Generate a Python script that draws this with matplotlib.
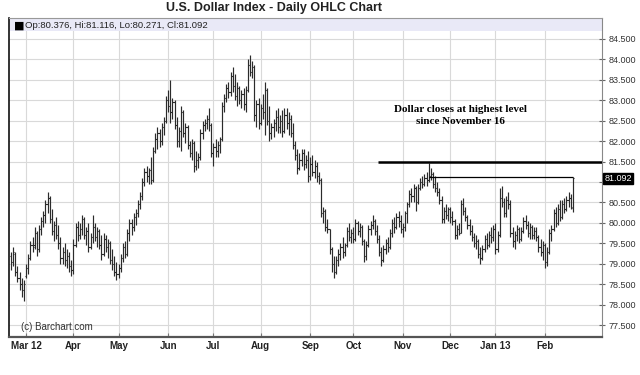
import matplotlib
matplotlib.use('Agg')
import matplotlib.pyplot as plt
import pandas as pd

# valeurs (du 21 fév 2012 au 20 fév 2013, jours ouvrés)
start, end = '2012-02-21', '2013-02-20'

opens = [79.20, 79.05, 79.25, 78.80, 78.65, 78.50, 78.35, 78.70,
    78.90, 79.15, 79.45, 79.45, 79.75, 79.35, 79.85, 80.05, 80.20, 80.45,
    80.60, 80.10, 79.80, 79.95, 79.70, 79.50, 79.15, 79.30, 79.10, 79.20,
    78.95, 78.85, 79.45, 79.90, 79.70, 79.85, 80.10, 79.70, 79.80, 79.40,
    79.65, 79.90, 79.65, 79.80, 79.45, 79.25, 79.60, 79.40, 79.50, 79.10,
    79.00, 78.80, 78.75, 78.90, 79.15, 79.40, 79.25, 79.75, 80.00, 79.90,
    80.15, 80.25, 80.45, 80.65, 81.00, 81.25, 81.15, 81.30, 81.05, 81.75,
    82.05, 82.20, 82.00, 82.35, 82.50, 83.00, 82.85, 82.70, 82.95, 82.40,
    82.00, 82.25, 82.70, 82.20, 82.35, 81.90, 81.70, 81.95, 81.40, 81.55,
    81.60, 82.20, 82.40, 82.45, 82.55, 82.40, 81.70, 81.85, 81.75, 81.90,
    82.05, 82.85, 83.05, 83.30, 83.20, 83.60, 83.35, 83.10, 83.30, 83.00,
    83.15, 82.90, 83.25, 83.85, 83.70, 83.80, 82.65, 82.90, 82.45, 82.80,
    82.70, 83.25, 82.50, 82.20, 82.35, 82.45, 82.60, 82.35, 82.50, 82.25,
    82.65, 82.45, 82.55, 82.20, 81.90, 81.65, 81.35, 81.55, 81.70, 81.45,
    81.55, 81.15, 81.45, 81.25, 81.40, 81.15, 81.05, 80.25, 80.30, 79.90,
    79.85, 79.35, 79.00, 78.80, 79.10, 79.25, 79.40, 79.30, 79.45, 79.80,
    79.65, 79.75, 79.60, 80.00, 79.80, 79.90, 79.55, 79.20, 79.45, 79.85,
    79.95, 80.05, 79.80, 79.60, 79.30, 79.10, 79.35, 79.50, 79.40, 79.75,
    80.00, 79.90, 80.15, 80.05, 79.85, 79.90, 80.25, 80.45, 80.70, 80.65,
    80.85, 80.50, 80.85, 81.00, 80.95, 81.10, 81.05, 81.15, 81.20, 80.95,
    80.85, 80.75, 80.55, 80.10, 80.30, 80.20, 80.35, 80.15, 80.05, 79.70,
    79.85, 79.75, 80.45, 80.30, 80.15, 79.95, 79.80, 79.65, 79.50, 79.55,
    79.25, 79.15, 79.35, 79.60, 79.45, 79.70, 79.65, 79.85, 79.35, 79.70,
    80.60, 80.50, 80.25, 80.55, 80.45, 79.75, 79.55, 79.70, 79.85, 79.60,
    79.80, 80.05, 79.95, 79.75, 79.90, 79.70, 79.80, 79.65, 79.40, 79.30,
    79.45, 79.05, 79.30, 79.75, 79.85, 80.25, 80.00, 80.35, 80.15, 80.45,
    80.35, 80.55, 80.60, 80.376]

highs = [79.30, 79.40, 79.30, 78.95, 78.80, 78.65, 78.60, 79.00,
    79.25, 79.55, 79.65, 79.90, 79.80, 79.95, 80.15, 80.30, 80.55, 80.75,
    80.65, 80.35, 80.05, 80.15, 79.95, 79.65, 79.40, 79.50, 79.35, 79.30,
    79.10, 79.60, 80.00, 80.05, 80.00, 80.20, 80.15, 79.90, 80.00, 79.75,
    80.20, 80.00, 79.90, 79.85, 79.70, 79.75, 79.70, 79.60, 79.55, 79.35,
    79.20, 79.05, 79.00, 79.25, 79.50, 79.55, 79.85, 80.10, 80.10, 80.25,
    80.35, 80.55, 80.75, 81.10, 81.35, 81.40, 81.35, 81.60, 81.85, 82.20,
    82.35, 82.30, 82.45, 82.60, 83.10, 83.25, 83.50, 83.05, 83.00, 82.60,
    82.35, 82.85, 82.75, 82.45, 82.40, 82.00, 82.05, 82.00, 81.75, 81.70,
    82.30, 82.50, 82.55, 82.65, 82.80, 82.45, 81.95, 82.05, 82.00, 82.10,
    82.95, 83.15, 83.40, 83.45, 83.70, 83.80, 83.65, 83.45, 83.35, 83.25,
    83.30, 83.35, 84.00, 84.10, 83.95, 83.85, 83.00, 83.05, 82.90, 83.15,
    83.45, 83.30, 82.85, 82.45, 82.55, 82.75, 82.80, 82.65, 82.75, 82.80,
    82.80, 82.70, 82.65, 82.45, 82.00, 81.80, 81.70, 81.80, 81.80, 81.65,
    81.75, 81.60, 81.65, 81.55, 81.50, 81.25, 81.10, 80.40, 80.35, 80.10,
    79.85, 79.40, 79.20, 79.20, 79.35, 79.50, 79.65, 79.50, 79.90, 80.00,
    79.85, 79.90, 80.10, 80.05, 80.00, 79.95, 79.60, 79.55, 79.95, 80.05,
    80.20, 80.10, 79.95, 79.70, 79.40, 79.45, 79.60, 79.65, 79.85, 80.10,
    80.15, 80.25, 80.30, 80.20, 80.00, 80.30, 80.50, 80.80, 80.85, 80.95,
    80.90, 80.95, 81.10, 81.15, 81.20, 81.25, 81.46, 81.35, 81.25, 81.15,
    81.00, 80.85, 80.65, 80.40, 80.45, 80.40, 80.40, 80.30, 80.10, 79.95,
    80.00, 80.55, 80.60, 80.40, 80.20, 80.10, 79.95, 79.75, 79.70, 79.60,
    79.40, 79.45, 79.70, 79.75, 79.80, 79.90, 79.95, 80.00, 79.80, 80.85,
    80.90, 80.60, 80.65, 80.75, 80.55, 79.90, 79.80, 79.95, 79.90, 79.90,
    80.15, 80.20, 80.05, 80.00, 79.95, 79.90, 79.90, 79.70, 79.60, 79.55,
    79.50, 79.40, 79.85, 79.95, 80.35, 80.40, 80.45, 80.55, 80.55, 80.60,
    80.65, 80.75, 80.70, 81.116]

lows = [78.85, 78.95, 78.70, 78.55, 78.35, 78.20, 78.10, 78.65,
    78.75, 79.10, 79.30, 79.35, 79.20, 79.30, 79.70, 79.90, 80.00, 80.25,
    80.00, 79.70, 79.55, 79.60, 79.35, 79.00, 79.00, 78.95, 78.90, 78.80,
    78.70, 78.75, 79.40, 79.55, 79.60, 79.70, 79.60, 79.45, 79.30, 79.35,
    79.50, 79.55, 79.40, 79.35, 79.10, 79.20, 79.30, 79.15, 79.00, 78.85,
    78.70, 78.60, 78.65, 78.80, 79.05, 79.15, 79.20, 79.55, 79.70, 79.80,
    79.95, 80.15, 80.35, 80.55, 80.90, 81.00, 80.95, 80.95, 81.00, 81.70,
    81.80, 81.85, 81.90, 82.15, 82.45, 82.70, 82.45, 82.55, 82.30, 81.85,
    81.85, 81.75, 82.10, 81.95, 81.80, 81.60, 81.55, 81.25, 81.30, 81.35,
    81.55, 82.05, 82.25, 82.30, 82.25, 81.60, 81.40, 81.60, 81.60, 81.70,
    82.00, 82.70, 82.95, 83.05, 83.10, 83.20, 83.00, 82.85, 82.90, 82.80,
    82.75, 82.70, 83.20, 83.60, 83.55, 82.50, 82.35, 82.30, 82.40, 82.55,
    82.15, 82.40, 82.00, 82.05, 82.10, 82.25, 82.20, 82.20, 82.10, 82.20,
    82.30, 82.15, 82.10, 81.80, 81.55, 81.20, 81.30, 81.40, 81.30, 81.35,
    81.00, 81.05, 81.15, 81.10, 81.00, 80.95, 80.15, 80.00, 79.80, 79.75,
    79.25, 78.80, 78.65, 78.75, 78.95, 79.10, 79.15, 79.20, 79.40, 79.55,
    79.50, 79.50, 79.55, 79.70, 79.65, 79.45, 79.05, 79.10, 79.40, 79.70,
    79.85, 79.70, 79.50, 79.20, 78.95, 79.05, 79.25, 79.30, 79.35, 79.65,
    79.75, 79.85, 79.90, 79.75, 79.65, 79.80, 80.00, 80.40, 80.50, 80.50,
    80.30, 80.45, 80.80, 80.85, 80.90, 80.90, 81.00, 81.05, 80.85, 80.75,
    80.65, 80.45, 80.00, 80.00, 80.10, 80.05, 80.00, 79.95, 79.60, 79.60,
    79.70, 79.75, 80.20, 80.05, 79.85, 79.70, 79.55, 79.40, 79.35, 79.15,
    79.00, 79.10, 79.30, 79.35, 79.40, 79.50, 79.55, 79.25, 79.30, 79.65,
    80.40, 80.15, 80.15, 80.35, 79.65, 79.40, 79.35, 79.55, 79.50, 79.55,
    79.75, 79.85, 79.65, 79.60, 79.60, 79.60, 79.55, 79.30, 79.20, 79.10,
    78.90, 78.95, 79.25, 79.55, 79.80, 79.90, 79.95, 80.05, 80.10, 80.25,
    80.30, 80.40, 80.35, 80.271]

closes = [79.05, 79.30, 78.80, 78.65, 78.50, 78.35, 78.50, 78.90,
    79.15, 79.45, 79.40, 79.75, 79.35, 79.85, 80.05, 80.20, 80.45, 80.60,
    80.10, 79.80, 79.95, 79.70, 79.50, 79.15, 79.30, 79.10, 79.20, 78.95,
    78.85, 79.45, 79.90, 79.70, 79.85, 80.10, 79.70, 79.80, 79.40, 79.65,
    79.90, 79.65, 79.80, 79.45, 79.25, 79.60, 79.40, 79.50, 79.10, 79.00,
    78.80, 78.75, 78.90, 79.15, 79.40, 79.25, 79.75, 80.00, 79.90, 80.15,
    80.25, 80.45, 80.65, 81.00, 81.25, 81.15, 81.30, 81.05, 81.75, 82.05,
    82.20, 82.00, 82.35, 82.50, 83.00, 82.85, 82.70, 82.95, 82.40, 82.00,
    82.25, 82.70, 82.20, 82.35, 81.90, 81.70, 81.95, 81.40, 81.55, 81.60,
    82.20, 82.40, 82.45, 82.55, 82.40, 81.70, 81.85, 81.75, 81.90, 82.05,
    82.85, 83.05, 83.30, 83.20, 83.60, 83.35, 83.10, 83.30, 83.00, 83.15,
    82.90, 83.25, 83.85, 83.70, 83.80, 82.65, 82.90, 82.45, 82.80, 82.70,
    83.25, 82.50, 82.20, 82.35, 82.45, 82.60, 82.35, 82.50, 82.25, 82.65,
    82.45, 82.55, 82.20, 81.90, 81.65, 81.35, 81.55, 81.70, 81.45, 81.55,
    81.15, 81.45, 81.25, 81.40, 81.15, 81.05, 80.25, 80.30, 79.90, 79.85,
    79.35, 79.00, 78.80, 79.10, 79.25, 79.40, 79.30, 79.45, 79.80, 79.65,
    79.75, 79.60, 80.00, 79.80, 79.90, 79.55, 79.20, 79.45, 79.85, 79.95,
    80.05, 79.80, 79.60, 79.30, 79.10, 79.35, 79.50, 79.40, 79.75, 80.00,
    79.90, 80.15, 80.05, 79.85, 79.90, 80.25, 80.45, 80.70, 80.65, 80.85,
    80.50, 80.85, 81.00, 80.95, 81.10, 81.05, 81.15, 81.20, 80.95, 80.85,
    80.75, 80.55, 80.10, 80.30, 80.20, 80.35, 80.15, 80.05, 79.70, 79.85,
    79.75, 80.45, 80.30, 80.15, 79.95, 79.80, 79.65, 79.50, 79.55, 79.25,
    79.15, 79.35, 79.60, 79.45, 79.70, 79.65, 79.85, 79.35, 79.70, 80.60,
    80.50, 80.25, 80.55, 80.45, 79.75, 79.55, 79.70, 79.85, 79.60, 79.80,
    80.05, 79.95, 79.75, 79.90, 79.70, 79.80, 79.65, 79.40, 79.30, 79.45,
    79.05, 79.30, 79.75, 79.85, 80.25, 80.00, 80.35, 80.15, 80.45, 80.35,
    80.55, 80.60, 80.40, 81.092]

month_labels = ['Mar 12', 'Apr', 'May', 'Jun', 'Jul', 'Aug', 'Sep', 'Oct', 'Nov', 'Dec', 'Jan 13', 'Feb']
yticks = [77.5, 78.0, 78.5, 79.0, 79.5, 80.0, 80.5, 81.0, 81.5, 82.0, 82.5, 83.0, 83.5, 84.0, 84.5]
level = 81.5          # plus haut niveau depuis le 16 novembre
note = 'Dollar closes at highest level\nsince November 16'

dates = pd.bdate_range(start, end)
X = list(range(len(dates)))

# premier jour ouvré de chaque mois, à partir de mars
firsts = []
for i in range(1, len(dates)):
    if dates[i].month != dates[i-1].month: firsts.append(i)

fig = plt.figure(figsize=(6.4, 3.75), dpi=100)
ax = fig.add_axes([0.0148, 0.1013, 0.9258, 0.8507])
ax.set_xlim(-0.7, 274.5)
ax.set_ylim(77.21, 85.01)

# grille
for y in yticks: ax.axhline(y, color='#d9d9d9', lw=0.8, zorder=0)
for f in firsts: ax.axvline(f, color='#d9d9d9', lw=0.8, zorder=0)
ax.axhspan(84.70, 85.2, color='#e9e9f7', zorder=0.5, lw=0)

# barres OHLC
bar_col = '#2b2b2b'
ax.vlines(X, lows, highs, color=bar_col, lw=0.85, zorder=3)
ax.hlines(opens, [x-0.6 for x in X], X, color=bar_col, lw=0.8, zorder=3)
ax.hlines(closes, X, [x+0.6 for x in X], color=bar_col, lw=0.8, zorder=3)

# lignes d'annotation
peak = highs.index(max(highs[150:]))
ax.hlines(level, 170.5, 274.5, color='black', lw=1.8, zorder=4)
ax.hlines(highs[-1], peak, X[-1], color='black', lw=0.9, zorder=4)
ax.text(208.6, 82.63, note, ha='center', va='center', fontsize=8, fontweight='bold',
        family='Liberation Serif', linespacing=1.35)

ax.text(0.0075, 0.976, '\u25a0', transform=ax.transAxes, fontsize=8, va='center', family='DejaVu Sans')
ax.text(0.026, 0.976, f'Op:{opens[-1]:.3f}, Hi:{highs[-1]:.3f}, Lo:{lows[-1]:.3f}, Cl:{closes[-1]:.3f}',
        transform=ax.transAxes, fontsize=6.8, va='center', family='Liberation Sans', color='#222')
ax.text(0.019, 0.022, '(c) Barchart.com', transform=ax.transAxes, fontsize=7,
        family='Liberation Sans', color='#333')

# axes
ax.yaxis.tick_right()
ax.set_yticks(yticks)
ax.set_yticklabels(['' if y == 81.0 else f'{y:.3f}' for y in yticks], family='Liberation Sans')
ax.tick_params(axis='y', direction='inout', length=5, width=0.8, color='#666', labelsize=6.5, pad=2, labelcolor='#333')
ax.set_xticks(firsts)
ax.set_xticklabels(month_labels, family='Liberation Sans', fontweight='bold')
ax.tick_params(axis='x', direction='in', length=3, width=0.8, color='#777', labelsize=7, pad=3, labelcolor='#222')
ax.text(1.004, closes[-1], f'{closes[-1]:.3f}', transform=ax.get_yaxis_transform(), fontsize=6.5,
        family='Liberation Sans', color='white', va='center', ha='left',
        bbox=dict(boxstyle='square,pad=0.12', fc='black', ec='black'))

ax.spines['left'].set_color('#111')
ax.spines['left'].set_linewidth(1.2)
ax.spines['bottom'].set_color('#555')
ax.spines['bottom'].set_linewidth(1.6)
ax.spines['right'].set_color('#888')
ax.spines['top'].set_color('#999')

fig.text(166/640, 0.98, 'U.S. Dollar Index - Daily OHLC Chart', ha='left', va='center',
         fontsize=9, fontweight='bold', family='Liberation Sans', color='#222')

fig.savefig('out.png', dpi=100)
